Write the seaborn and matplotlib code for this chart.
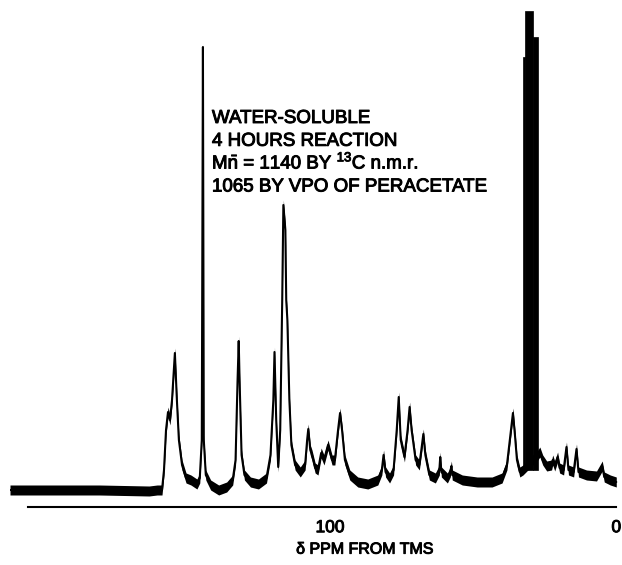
import numpy as np
import pandas as pd
import matplotlib
matplotlib.use('Agg')
import matplotlib.pyplot as plt
import matplotlib.patheffects as pe
import seaborn as sns

# trace: chemical shift (ppm) and signal height (arbitrary units)
ppm = [211.8, 197.9, 180.6, 163.2, 160.4, 158.7, 158.0, 157.3, 156.6, 155.9,
       155.2, 154.2, 153.5, 152.8, 151.7, 150.3, 148.6, 146.5, 145.5, 144.8,
       144.4, 144.1, 143.4, 141.7, 138.9, 136.1, 134.0, 133.0, 132.3, 131.9,
       131.6, 130.9, 129.9, 127.8, 125.0, 122.2, 120.8, 119.8, 119.4, 118.8,
       118.1, 117.4, 116.7, 116.3, 115.6, 115.3, 114.9, 114.2, 113.5, 112.2,
       110.4, 108.7, 108.0, 107.6, 106.9, 106.3, 105.2, 104.2, 103.1, 102.1,
       100.7, 99.3, 98.3, 97.2, 96.5, 95.8, 94.8, 93.1, 90.3, 86.8,
       83.3, 81.9, 81.3, 80.6, 79.2, 77.8, 76.7, 76.0, 75.3, 74.0,
       72.9, 72.2, 71.5, 70.1, 68.8, 68.1, 67.4, 66.7, 65.3, 63.2,
       61.8, 61.5, 61.1, 59.0, 58.0, 57.6, 57.3, 53.8, 48.6, 43.4,
       39.9, 38.2, 37.2, 36.1, 35.4, 34.7, 33.7, 32.6, 27.4, 26.7,
       25.7, 24.3, 22.6, 22.2, 21.5, 20.5, 19.8, 18.4, 17.4, 16.7,
       14.9, 13.9, 13.2, 10.4, 6.9, 4.9, 4.2, 2.1, 0.0]
signal = [17, 17, 17, 16, 17, 17, 37, 77, 95, 87,
          107, 154, 107, 67, 42, 29, 27, 23, 29, 67,
          460, 67, 32, 22, 17, 20, 27, 47, 127, 166,
          127, 52, 32, 25, 23, 29, 52, 107, 155, 87,
          40, 77, 207, 302, 277, 207, 187, 107, 62, 42,
          35, 42, 67, 78, 57, 52, 39, 37, 54, 47,
          62, 47, 47, 77, 94, 77, 47, 32, 25, 23,
          27, 37, 52, 35, 29, 37, 77, 110, 67, 50,
          77, 100, 77, 47, 42, 57, 73, 52, 32, 29,
          37, 50, 35, 29, 35, 41, 32, 27, 25, 25,
          29, 42, 67, 94, 72, 47, 35, 37, 52, 55,
          47, 41, 42, 47, 41, 50, 39, 37, 60, 37,
          35, 58, 35, 32, 31, 41, 30, 27, 25]

# the saturated multiplet near 30 ppm, drawn as solid blocks
block_hi = [32.6, 31.9, 29.2]
block_lo = [31.9, 29.2, 27.4]
block_top = [450, 496, 470]
block_base = 37

axis_ticks = [100, 0]
tick_labels = ['100', '0']

annotation = ['WATER-SOLUBLE',
              '4 HOURS REACTION',
              r'M$\bar{\mathrm{n}}$ = 1140 BY $^{13}$C n.m.r.',
              '1065 BY VPO OF PERACETATE']

df = pd.DataFrame({'ppm': ppm, 'signal': signal})

sns.set_style('white')
plt.rcParams['font.family'] = ['Liberation Sans', 'DejaVu Sans']
plt.rcParams['mathtext.fontset'] = 'custom'
plt.rcParams['mathtext.rm'] = 'Liberation Sans'

heavy = [pe.withStroke(linewidth=0.7, foreground='black')]

fig = plt.figure(figsize=(6.22, 5.65), dpi=100)
ax = fig.add_axes([10 / 622, 58 / 565, 612 / 622, 502 / 565])

# thick noisy trace -> a band around the line
ax.fill_between(df['ppm'], df['signal'] - 5, df['signal'] + 5, color='black', lw=0)
sns.lineplot(data=df, x='ppm', y='signal', sort=False, color='black', lw=1.5, ax=ax)

centers = [(h + l) / 2 for h, l in zip(block_hi, block_lo)]
widths = [h - l for h, l in zip(block_hi, block_lo)]
heights = [t - block_base for t in block_top]
ax.bar(centers, heights, width=widths, bottom=block_base, color='black', lw=0.5,
       edgecolor='black')

ax.set_xlim(211.8, -2.0)
ax.set_ylim(0, 502)

for s in ['top', 'left', 'right']:
    ax.spines[s].set_visible(False)
ax.spines['bottom'].set_linewidth(1.5)
ax.spines['bottom'].set_color('black')
ax.spines['bottom'].set_bounds(0, 205.5)

ax.set_yticks([])
ax.set_xticks(axis_ticks)
ax.set_xticklabels(tick_labels, fontsize=12.5, color='black')
ax.tick_params(axis='x', direction='inout', length=9, width=1.3, pad=5, color='black')
for t in ax.get_xticklabels():
    t.set_path_effects(heavy)
ax.set_ylabel('')
ax.set_xlabel('δ PPM FROM TMS', fontsize=11.5, color='black')
ax.xaxis.label.set_path_effects(heavy)
ax.xaxis.set_label_coords(0.58, -0.069)

for i, line in enumerate(annotation):
    ax.text(0.330, 0.765 - i * 0.0455, line, transform=ax.transAxes,
            fontsize=13.5, va='baseline', ha='left', color='black',
            path_effects=heavy)

fig.savefig('out.png', dpi=100)
